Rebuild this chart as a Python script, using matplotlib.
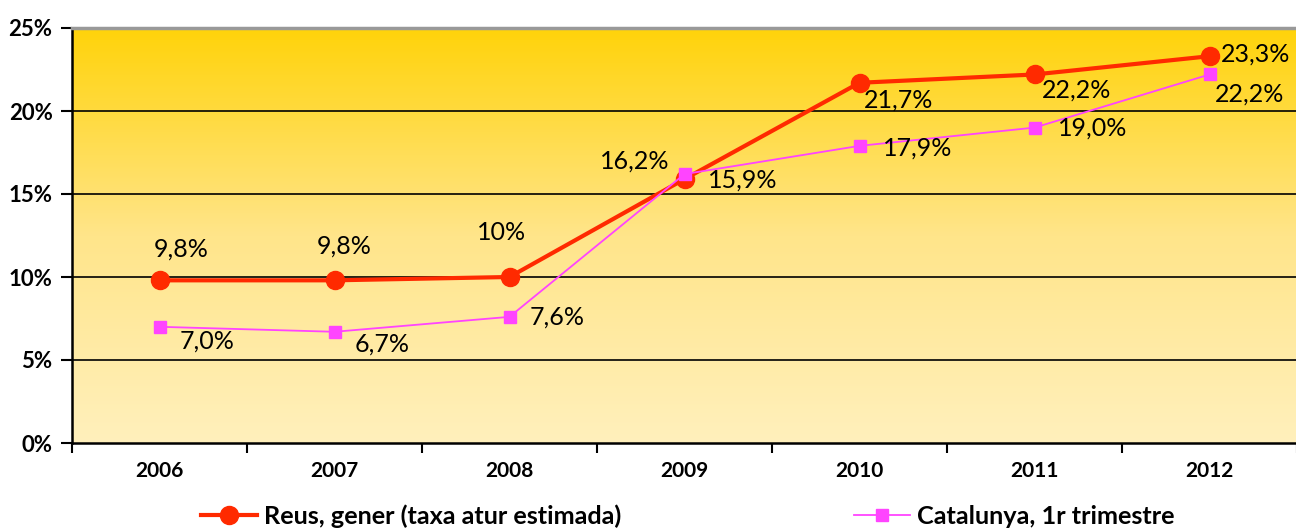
import numpy as np
import matplotlib
matplotlib.use("Agg")
import matplotlib.pyplot as plt
from matplotlib.colors import LinearSegmentedColormap
from matplotlib.lines import Line2D

# data
years = ["2006", "2007", "2008", "2009", "2010", "2011", "2012"]
reus = [9.8, 9.8, 10.0, 15.9, 21.7, 22.2, 23.3]
cat = [7.0, 6.7, 7.6, 16.2, 17.9, 19.0, 22.2]
reus_lbl = ["9,8%", "9,8%", "10%", "16,2%", "21,7%", "22,2%", "23,3%"]
cat_lbl = ["7,0%", "6,7%", "7,6%", "15,9%", "17,9%", "19,0%", "22,2%"]

# label offsets in pixels (dx, dy) from the point
reus_off = [(22, 31), (10, 34), (-8, 44), (-50, 18), (39, -17), (42, -16), (46, 2)]
cat_off = [(48, -14), (48, -12), (48, 0), (58, -6), (58, -2), (58, 0), (40, -20)]

plt.rcParams['font.family'] = ['Lato', 'DejaVu Sans']

fig = plt.figure(figsize=(12.96, 5.29), dpi=100)
ax = fig.add_axes([72/1296, 1-443/529, 1225/1296, 415/529])

x = np.arange(len(years))
ax.set_xlim(-0.5, 6.5)
ax.set_ylim(0, 25)

# gradient background
cmap = LinearSegmentedColormap.from_list("bg", ["#FFF0BC", "#FFE58A", "#FFD30A"])
grad = np.linspace(0, 1, 256).reshape(-1, 1)
ax.imshow(grad, extent=(-0.5, 6.5, 0, 25), origin="lower", aspect="auto",
          cmap=cmap, zorder=0)

for yv in [5, 10, 15, 20]:
    ax.axhline(yv, color="black", lw=1.2, zorder=1)

ax.plot(x, reus, color="#FF2A00", lw=3, marker="o", ms=13, zorder=3)
ax.plot(x, cat, color="#FF44FF", lw=1.3, marker="s", ms=8, zorder=4)

for i in range(len(x)):
    ax.annotate(reus_lbl[i], (x[i], reus[i]), xytext=reus_off[i],
                textcoords="offset pixels", ha="center", va="center",
                fontsize=18, zorder=5)
    ax.annotate(cat_lbl[i], (x[i], cat[i]), xytext=cat_off[i],
                textcoords="offset pixels", ha="center", va="center",
                fontsize=18, zorder=5)

ax.set_yticks([0, 5, 10, 15, 20, 25])
ax.set_yticklabels(["0%", "5%", "10%", "15%", "20%", "25%"],
                   fontsize=16, fontweight="bold")
ax.set_xticks(x)
ax.set_xticklabels(years, fontsize=15, fontweight="bold")
ax.set_xticks(np.arange(-0.5, 7, 1), minor=True)
ax.tick_params(axis="x", which="major", length=0, pad=13)
ax.tick_params(axis="x", which="minor", length=7, width=1.5, direction="out")
ax.tick_params(axis="y", length=8, width=1.5, pad=6)

ax.spines["left"].set_linewidth(1.8)
ax.spines["bottom"].set_linewidth(1.8)
ax.spines["top"].set_color("#999999")
ax.spines["top"].set_linewidth(2.5)
ax.spines["right"].set_visible(False)

handles = [
    Line2D([], [], color="#FF2A00", lw=3, marker="o", ms=13),
    Line2D([], [], color="#FF44FF", lw=1.3, marker="s", ms=8),
]
fig.legend(handles, ["Reus, gener (taxa atur estimada)", "Catalunya, 1r trimestre"],
           loc="center", bbox_to_anchor=(688/1296, 1-516/529), ncol=2,
           frameon=False, prop={"size": 18.2, "weight": "bold"},
           columnspacing=9.2, handlelength=2.2, handletextpad=0.3)

fig.savefig("out.png", dpi=100)
